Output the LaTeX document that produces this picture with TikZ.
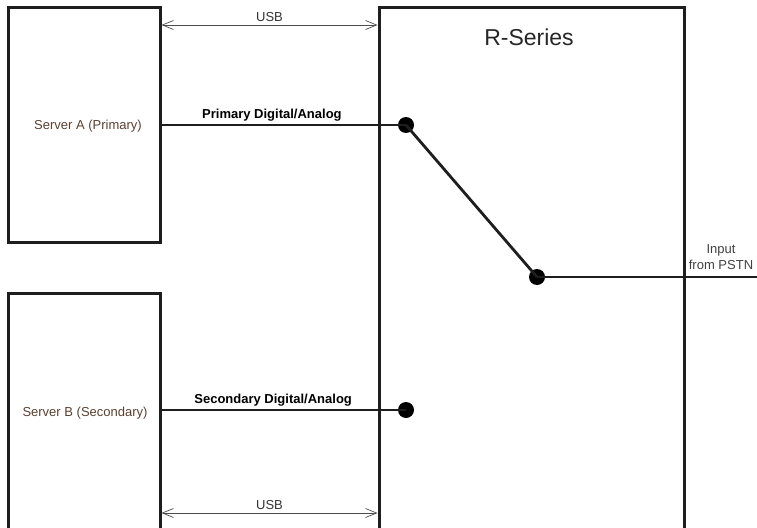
\documentclass[tikz,border=0pt]{standalone}
\usepackage{fontspec}
\setmainfont{Liberation Sans}
\usetikzlibrary{arrows.meta}
\definecolor{lbl}{HTML}{5A4030}
\definecolor{boxline}{HTML}{1E1E1E}
\begin{document}
\begin{tikzpicture}[x=1pt,y=-1pt,
  box/.style={draw=boxline,line width=3pt,minimum width=152pt,inner sep=0pt},
  wire/.style={draw=boxline,line width=2.8pt},
  usb/.style={draw=black!70,line width=0.7pt,{Straight Barb[length=11pt,width=9pt]}-{Straight Barb[length=11pt,width=9pt]}},
  dotn/.style={circle,fill=black,inner sep=0pt,minimum size=16pt},
  srv/.style={text=lbl,font=\fontsize{13}{15}\selectfont},
  sig/.style={font=\fontsize{13}{15}\selectfont\bfseries},
  small/.style={text=black!75,font=\fontsize{13}{16}\selectfont}]
\useasboundingbox (0,0) rectangle (757,527);
% boxes
\node[box,minimum height=234pt] (sa) at (84,125) {};
\node[box,minimum height=280pt] (sb) at (84,433) {};
\node[box,minimum width=305pt,minimum height=560pt] (rs) at (531.5,288) {};
\node[font=\fontsize{23}{26}\selectfont,text=black!85] (rst) at (529,37) {R-Series};
% labels
\node[srv] (sal) at (88,126) {Server A (Primary)};
\node[srv] (sbl) at (85,413) {Server B (Secondary)};
% USB arrows
\coordinate (u1a) at (161.5,25);
\coordinate (u1b) at (377.5,25);
\draw[usb] (u1a) -- node[above=0pt,small,text=black!80] {USB} (u1b);
\coordinate (u2a) at (161.5,513);
\coordinate (u2b) at (377.5,513);
\draw[usb] (u2a) -- node[above=0pt,small,text=black!80] {USB} (u2b);
% switch
\node[dotn] (d1) at (406,125) {};
\node[dotn] (d2) at (537,277) {};
\node[dotn] (d3) at (406,410) {};
\coordinate (pa) at (160,125);
\coordinate (pb) at (160,410);
\coordinate (pstn) at (760,277);
\draw[wire] (pa) -- node[pos=0.455,above=-1pt,sig] {Primary Digital/Analog} (d1.center);
\draw[wire] (pb) -- node[pos=0.46,above=-1pt,sig] {Secondary Digital/Analog} (d3.center);
\draw[wire] (d1.center) -- (d2.center);
\draw[wire] (d2.center) -- (pstn);
\node[small,align=center] (in) at (721,257) {Input\\from PSTN};
\end{tikzpicture}
\end{document}
